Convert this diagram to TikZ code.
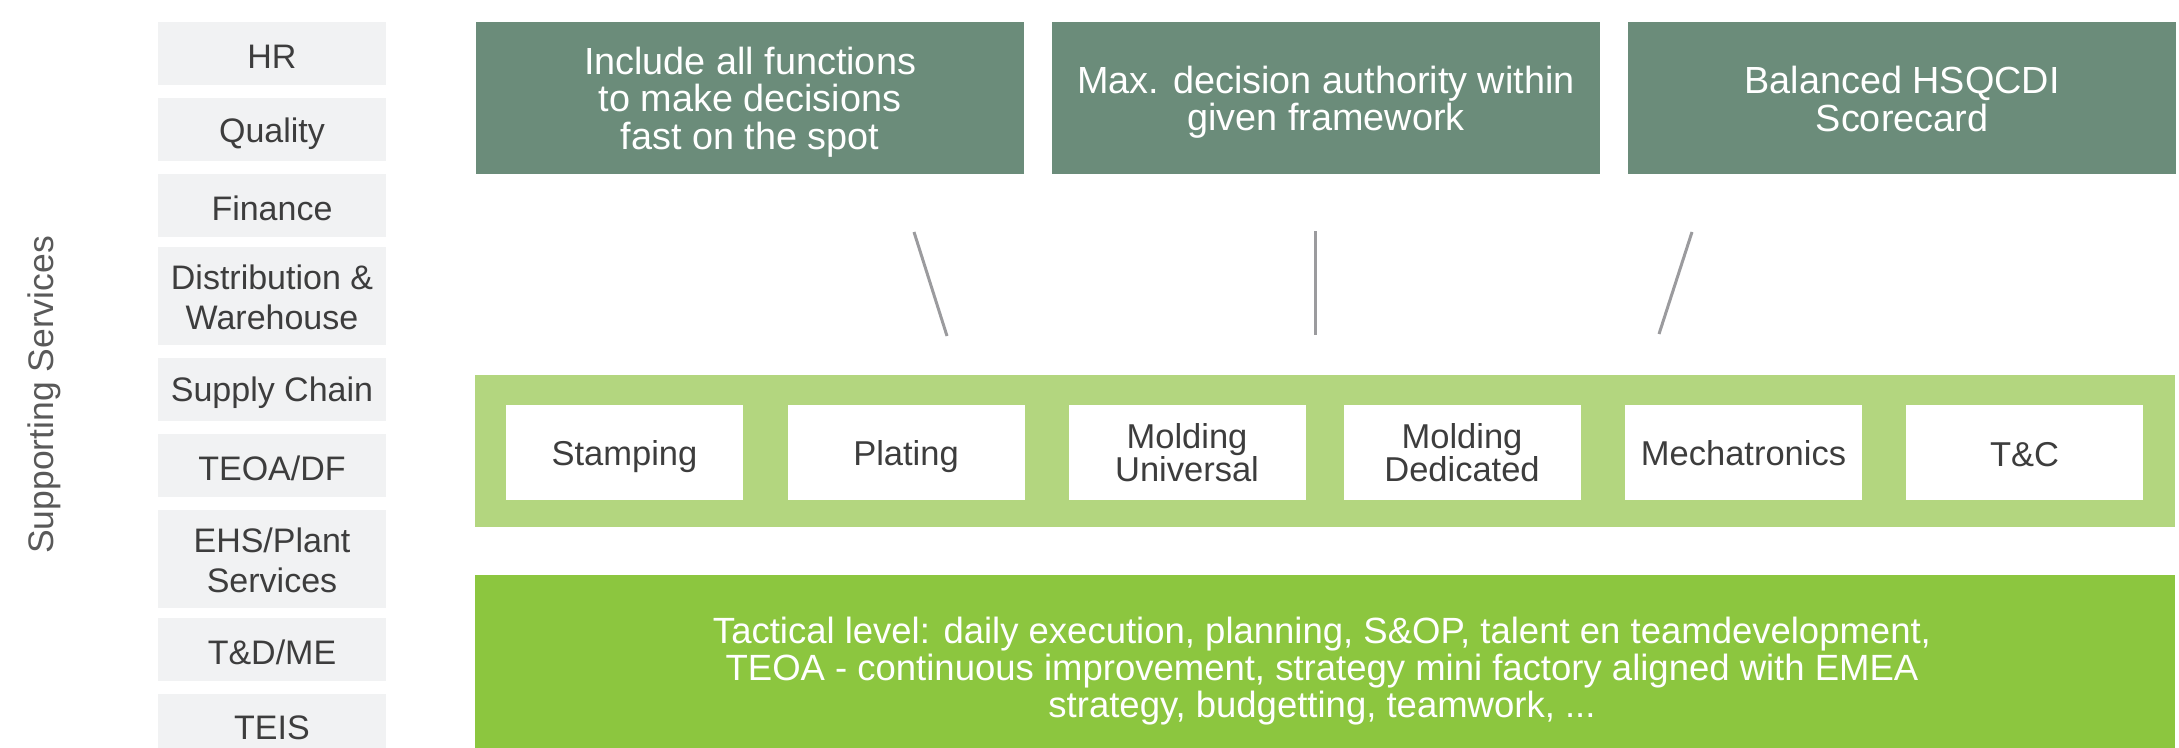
\documentclass[tikz,border=0pt]{standalone}
\usepackage{fontspec}
\setmainfont{Liberation Sans}
\definecolor{topgreen}{HTML}{6B8C7A}
\definecolor{lightgreen}{HTML}{B3D67F}
\definecolor{brightgreen}{HTML}{8CC63F}
\definecolor{greybox}{HTML}{F1F2F3}
\definecolor{textdark}{HTML}{3D3D3D}
\definecolor{suptext}{HTML}{595959}
\definecolor{linegrey}{HTML}{9B9B9E}
\begin{document}
\begin{tikzpicture}[x=1pt,y=-1pt,
  sidebox/.style={fill=greybox, draw=none, minimum width=228pt, inner sep=0pt},
  sidelbl/.style={text=textdark, align=center, inner sep=0pt, yshift=-3.5pt, font={\fontsize{34}{40}\selectfont}},
  topbox/.style={fill=topgreen, draw=none, minimum width=548pt, minimum height=152pt, inner sep=0pt},
  toplbl/.style={text=white, align=center, inner sep=0pt, yshift=-3pt, font={\fontsize{37.8}{37.5}\selectfont}},
  unitbox/.style={fill=white, draw=none, minimum width=237pt, minimum height=95pt, inner sep=0pt},
  unitlbl/.style={text=textdark, align=center, inner sep=0pt, yshift=-3.5pt, font={\fontsize{34.5}{32}\selectfont}},
  barbox/.style={draw=none, minimum width=1700pt, inner sep=0pt},
  taclbl/.style={text=white, align=center, inner sep=0pt, font={\fontsize{36.5}{37}\selectfont}},
  tickline/.style={draw=linegrey, line width=3pt}
]
\useasboundingbox (0,0) rectangle (2179,747);

% supporting services label
\node[rotate=90, text=suptext, font={\fontsize{35.5}{40}\selectfont}, inner sep=0pt] (sup) at (44,395) {Supporting Services};

% side boxes
\node[sidebox, minimum height=63pt, label={[sidelbl]center:HR}] (hr) at (272,53.5) {};
\node[sidebox, minimum height=63pt, label={[sidelbl, yshift=-1pt]center:Quality}] (qual) at (272,129.5) {};
\node[sidebox, minimum height=63pt, label={[sidelbl, yshift=1pt]center:Finance}] (fin) at (272,205.5) {};
\node[sidebox, minimum height=98pt, label={[sidelbl, yshift=2.5pt]center:{Distribution \&\\Warehouse}}] (dist) at (272,296) {};
\node[sidebox, minimum height=63pt, label={[sidelbl]center:Supply Chain}] (supply) at (272,389.5) {};
\node[sidebox, minimum height=63pt, label={[sidelbl, yshift=1pt]center:TEOA/DF}] (teoa) at (272,465.5) {};
\node[sidebox, minimum height=98pt, label={[sidelbl, yshift=2.5pt]center:{EHS/Plant\\Services}}] (ehs) at (272,559) {};
\node[sidebox, minimum height=63pt, label={[sidelbl, yshift=1pt]center:T\&D/ME}] (tdme) at (272,649.5) {};
\node[sidebox, minimum height=63pt, label={[sidelbl, yshift=1pt]center:TEIS}] (teis) at (272,725.5) {};

% top boxes
\node[topbox, label={[toplbl, yshift=-1pt]center:{Include all functions\\to make decisions\\fast on the spot}}] (t1) at (750,98) {};
\node[topbox, label={[toplbl, yshift=-1pt]center:{Max. decision authority within\\given framework}}] (t2) at (1326,98) {};
\node[topbox, label={[toplbl, yshift=2pt]center:{Balanced HSQCDI\\Scorecard}}] (t3) at (1902,98) {};

% connectors
\coordinate (c1a) at (914,232);
\coordinate (c1b) at (947,336);
\coordinate (c2a) at (1315,231);
\coordinate (c2b) at (1315,335);
\coordinate (c3a) at (1692,232);
\coordinate (c3b) at (1659,334);
\draw[tickline] (c1a) -- (c1b);
\draw[tickline] (c2a) -- (c2b);
\draw[tickline] (c3a) -- (c3b);

% unit bar
\node[barbox, fill=lightgreen, minimum height=152pt] (units) at (1325,451) {};
\node[unitbox, label={[unitlbl, yshift=-1pt]center:Stamping}] (u1) at (624.5,452.5) {};
\node[unitbox, label={[unitlbl, yshift=-1pt]center:Plating}] (u2) at (906,452.5) {};
\node[unitbox, label={[unitlbl, yshift=3pt]center:{Molding\\Universal}}] (u3) at (1187,452.5) {};
\node[unitbox, label={[unitlbl, yshift=3pt]center:{Molding\\Dedicated}}] (u4) at (1462,452.5) {};
\node[unitbox, label={[unitlbl, yshift=2.5pt]center:Mechatronics}] (u5) at (1743.5,452.5) {};
\node[unitbox, label={[unitlbl, yshift=1.5pt]center:T\&C}] (u6) at (2024.5,452.5) {};

% tactical bar
\node[barbox, fill=brightgreen, minimum height=180pt] (tacbar) at (1325,665) {};
\node[taclbl] (tactext) at (1322,671) {Tactical level: daily execution, planning, S\&OP, talent en teamdevelopment,\\TEOA - continuous improvement, strategy mini factory aligned with EMEA\\strategy, budgetting, teamwork, ...};
\end{tikzpicture}
\end{document}
